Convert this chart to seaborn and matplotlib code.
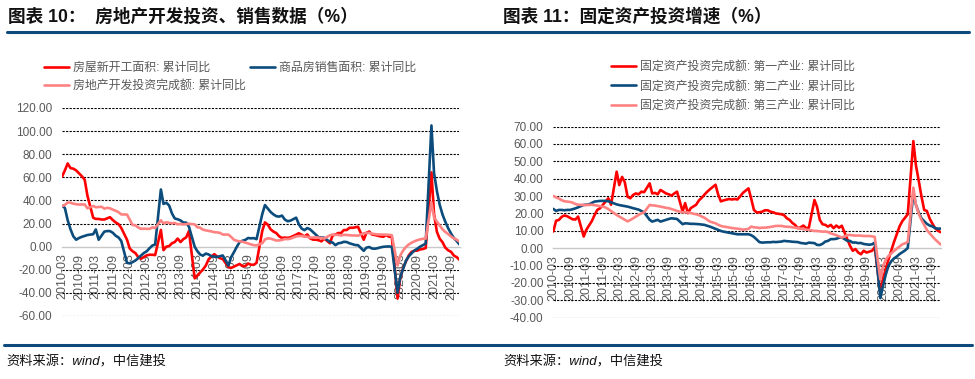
import pandas as pd
import numpy as np
import matplotlib
matplotlib.use("agg")
import matplotlib.pyplot as plt
import matplotlib.dates as mdates
from matplotlib.lines import Line2D
import seaborn as sns

# monthly cumulative data, no January prints
months = [d for d in pd.date_range("2010-03-01", "2021-12-01", freq="MS") if d.month != 1]

# ---- chart 10: real estate ----
new_start = [
    60.5, 66.0, 72.0, 68.0, 67.5, 66.0, 63.5, 61.0, 58.0, 44.0,
    25.0, 24.0, 24.0, 23.5, 23.5, 24.5, 25.5, 23.0, 21.0, 19.5, 16.2,
    6.0, -1.5, -4.0, -5.5, -9.0, -10.5, -9.0, -7.5, -7.0, -7.0, -7.3,
    14.5, -3.0, 0.0, 0.5, 3.0, 4.0, 7.0, 4.0, 6.5, 8.0, 13.5,
    -27.4, -25.2, -22.3, -19.8, -16.4, -11.0, -8.5, -6.5, -8.5, -10.0, -10.7,
    -17.7, -18.4, -17.3, -16.1, -15.0, -16.8, -16.8, -14.6, -15.6, -15.7, -14.0,
    13.7, 21.0, 19.0, 15.0, 13.0, 11.8, 9.0, 7.5, 7.9, 7.6, 8.1,
    10.4, 11.6, 10.4, 8.8, 10.6, 7.2, 6.1, 6.0, 5.6, 4.6, 7.0,
    2.9, 9.7, 10.5, 11.8, 11.8, 14.4, 14.4, 16.4, 16.3, 16.8, 17.2,
    6.0, 11.9, 13.1, 10.5, 10.1, 9.5, 8.9, 8.6, 10.0, 8.6, 8.5,
    -44.9, -27.2, -18.4, -12.8, -7.6, -4.5, -3.6, -3.4, -2.4, -2.0, -1.2,
    64.3, 28.2, 12.8, 6.9, 3.8, -0.9, -3.2, -4.5, -7.7, -9.1, -11.4,
]
sales_area = [
    35.5, 33.5, 23.0, 15.0, 9.0, 6.0, 7.5, 8.5, 9.3, 10.1,
    10.8, 14.9, 6.0, 9.5, 13.0, 13.5, 13.5, 12.0, 9.5, 8.0, 4.9,
    -14.0, -14.5, -13.4, -12.0, -10.0, -7.7, -5.5, -4.0, -1.4, 1.0, 1.8,
    49.5, 37.0, 38.0, 35.6, 28.7, 24.4, 23.7, 22.7, 20.9, 20.8, 17.3,
    -0.1, -3.8, -6.8, -7.8, -6.0, -6.7, -8.3, -8.6, -8.9, -8.2, -7.6,
    -16.3, -9.2, -4.8, -0.2, 3.9, 5.1, 5.8, 7.5, 7.2, 7.4, 6.5,
    28.2, 36.0, 33.0, 30.0, 27.9, 26.4, 26.0, 26.9, 23.5, 22.0, 22.5,
    25.1, 19.5, 15.7, 14.3, 16.1, 15.0, 12.7, 10.3, 8.2, 7.9, 7.7,
    4.1, 3.6, 1.3, 2.9, 3.3, 4.2, 4.0, 2.9, 2.2, 1.4, 1.3,
    -3.6, -0.9, -0.3, -1.6, -1.8, -1.3, -0.6, -0.1, 0.1, 0.2, -0.1,
    -39.9, -26.3, -19.3, -12.3, -8.4, -5.8, -3.3, -1.8, 0.0, 1.3, 2.6,
    104.9, 63.8, 48.1, 36.3, 27.7, 21.5, 15.9, 11.3, 7.5, 4.8, 1.9,
]
re_invest = [
    35.1, 36.2, 38.2, 38.1, 37.2, 36.7, 36.4, 36.5, 36.5, 33.2,
    35.2, 34.1, 34.3, 34.6, 32.9, 33.6, 33.2, 32.0, 31.1, 29.9, 27.9,
    27.8, 23.5, 18.7, 18.5, 16.6, 15.4, 15.6, 15.4, 15.4, 16.7, 16.2,
    22.8, 20.2, 21.1, 20.6, 20.3, 20.5, 19.3, 19.7, 19.2, 19.5, 19.8,
    19.3, 16.8, 16.4, 14.7, 14.1, 13.7, 13.2, 12.5, 12.4, 11.9, 10.5,
    10.4, 8.5, 6.0, 5.1, 4.6, 4.3, 3.5, 2.6, 2.0, 1.3, 1.0,
    3.0, 6.2, 7.2, 7.0, 6.1, 5.3, 5.4, 5.8, 6.6, 6.5, 6.9,
    8.9, 9.1, 9.3, 8.8, 8.5, 7.9, 7.9, 8.1, 7.8, 7.5, 7.0,
    9.9, 10.4, 10.3, 10.2, 9.7, 10.2, 10.1, 9.9, 9.7, 9.7, 9.5,
    11.6, 11.8, 11.9, 11.2, 10.9, 10.6, 10.5, 10.5, 10.3, 10.2, 9.9,
    -16.3, -7.7, -3.3, -0.3, 1.9, 3.4, 4.6, 5.6, 6.3, 6.8, 7.0,
    38.3, 25.6, 21.6, 18.3, 15.0, 12.7, 10.9, 8.8, 7.2, 6.0, 4.4,
]

# ---- chart 11: fixed asset investment by industry ----
fai_primary = [
    9.6, 15.8, 16.2, 18.0, 18.8, 18.4, 17.5, 16.6, 16.5, 18.2,
    6.7, 10.5, 13.0, 15.5, 19.0, 22.0, 23.0, 24.9, 26.8, 28.7, 25.0,
    44.0, 36.3, 41.0, 38.0, 29.6, 28.7, 30.6, 31.5, 31.0, 32.5, 32.2,
    37.3, 31.5, 31.8, 31.0, 33.5, 32.5, 31.5, 31.0, 30.2, 31.5, 32.5,
    21.1, 25.9, 20.1, 23.0, 24.0, 25.0, 27.5, 29.0, 30.8, 32.5, 33.9,
    36.5, 31.0, 26.9, 27.5, 27.9, 28.3, 28.0, 28.3, 28.0, 29.8, 31.8,
    34.4, 28.7, 22.0, 20.6, 20.6, 21.0, 21.8, 21.8, 21.0, 20.6, 20.0,
    19.5, 19.0, 17.2, 16.3, 14.5, 13.4, 11.5, 12.0, 13.0, 11.5, 11.8,
    27.7, 23.9, 16.3, 13.8, 13.4, 12.4, 13.4, 11.5, 13.0, 11.8, 12.9,
    5.0, 1.5, -1.5, -0.5, -2.5, -3.5, -1.5, -2.5, -2.0, -1.5, 0.6,
    -25.6, -18.0, -12.0, -6.5, -1.5, 3.5, 8.0, 12.5, 15.5, 17.5, 19.5,
    61.6, 47.8, 39.0, 30.0, 22.0, 21.4, 17.0, 14.0, 11.5, 10.0, 9.2,
]
fai_secondary = [
    22.6, 21.4, 22.0, 22.0, 21.8, 22.0, 22.0, 22.4, 22.9, 23.5,
    24.9, 25.0, 25.2, 26.0, 26.8, 27.0, 27.2, 27.2, 27.2, 27.0, 26.4,
    25.2, 24.8, 24.5, 24.2, 23.9, 23.5, 23.0, 22.6, 22.2, 21.4, 20.6,
    16.3, 15.3, 15.8, 16.3, 15.3, 15.8, 16.3, 16.8, 17.2, 17.0, 16.8,
    13.8, 14.3, 14.2, 14.0, 14.0, 13.9, 13.8, 13.6, 13.4, 12.9, 12.4,
    11.1, 10.5, 9.9, 9.5, 9.2, 8.9, 8.6, 8.3, 8.0, 8.0, 8.0,
    8.0, 7.5, 6.5, 5.0, 3.5, 3.2, 3.3, 3.4, 3.4, 3.6, 3.5,
    3.8, 4.2, 4.0, 3.9, 3.7, 3.6, 3.5, 3.0, 2.8, 2.6, 3.2,
    2.9, 1.9, 1.8, 2.5, 3.8, 4.2, 5.2, 5.2, 5.4, 6.0, 6.2,
    4.2, 4.2, 3.2, 3.3, 2.9, 3.0, 2.4, 2.2, 2.0, 2.2, 3.2,
    -28.7, -21.9, -15.2, -10.3, -7.5, -5.9, -4.8, -3.4, -2.4, -1.3, 0.1,
    31.9, 25.0, 20.6, 17.2, 15.5, 14.0, 13.0, 12.5, 11.5, 11.2, 11.3,
]
fai_tertiary = [
    30.0, 29.2, 28.6, 27.6, 27.0, 26.8, 26.6, 26.2, 25.4, 25.0,
    24.9, 24.8, 24.9, 25.0, 24.7, 24.5, 24.2, 23.9, 23.4, 22.5, 21.4,
    19.1, 18.2, 17.2, 16.3, 15.4, 16.2, 17.2, 18.2, 19.1, 20.0, 20.6,
    24.9, 24.6, 24.5, 24.2, 23.9, 23.6, 23.2, 23.0, 22.5, 22.0, 21.4,
    20.6, 20.6, 20.5, 20.3, 19.8, 19.5, 19.0, 18.2, 17.5, 16.3, 15.3,
    14.3, 13.5, 12.8, 12.4, 12.2, 11.9, 11.6, 11.4, 11.2, 11.0, 10.6,
    11.1, 12.4, 12.0, 11.9, 11.6, 11.8, 11.8, 12.0, 12.2, 12.5, 12.8,
    12.8, 12.5, 12.3, 12.3, 12.0, 11.8, 11.5, 11.2, 11.0, 10.7, 10.5,
    9.9, 9.9, 9.7, 9.5, 9.6, 9.3, 8.5, 8.0, 7.5, 6.8, 6.1,
    7.5, 7.6, 7.4, 7.2, 7.3, 7.2, 7.0, 7.0, 7.0, 6.8, 6.5,
    -18.0, -10.5, -6.7, -4.5, -3.0, -1.6, -0.3, 1.0, 2.2, 2.8, 3.6,
    34.8, 25.0, 20.0, 16.3, 13.4, 10.5, 8.5, 6.7, 5.0, 3.5, 2.1,
]

labels_left = ["房屋新开工面积: 累计同比", "商品房销售面积: 累计同比", "房地产开发投资完成额: 累计同比"]
labels_right = ["固定资产投资完成额: 第一产业: 累计同比",
                "固定资产投资完成额: 第二产业: 累计同比",
                "固定资产投资完成额: 第三产业: 累计同比"]
colors = ["#FF0000", "#0B4C7C", "#FF8282"]
left_yticks = [120, 100, 80, 60, 40, 20, 0, -20, -40, -60]
right_yticks = [70, 60, 50, 40, 30, 20, 10, 0, -10, -20, -30, -40]

GRAY = "#595959"
RULE = "#0E4A7E"


def long_df(series, names):
    frames = []
    for vals, name in zip(series, names):
        frames.append(pd.DataFrame({"date": months, "value": vals, "series": name}))
    return pd.concat(frames, ignore_index=True)


def draw(ax, df, names, yticks):
    sns.lineplot(data=df, x="date", y="value", hue="series", hue_order=names,
                 palette=dict(zip(names, colors)), linewidth=1.9, sort=False,
                 legend=False, ax=ax, zorder=3)
    ax.set_xlim(months[0], months[-1])
    ax.set_ylim(min(yticks), max(yticks))
    ax.set_yticks(yticks)
    ax.set_yticklabels(["%.2f" % v for v in yticks])
    for v in yticks:
        if v != 0:
            ax.axhline(v, color="black", lw=0.8, ls=(0, (2, 1.2)), zorder=1)
    for s in ["left", "right", "top"]:
        ax.spines[s].set_visible(False)
    ax.spines["bottom"].set_position(("data", 0))
    ax.spines["bottom"].set_color("#C8C8C8")
    ax.spines["bottom"].set_linewidth(1.0)
    ax.xaxis.set_major_locator(mdates.MonthLocator(bymonth=(3, 9)))
    ax.xaxis.set_major_formatter(mdates.DateFormatter("%Y-%m"))
    ax.tick_params(axis="x", colors="#C8C8C8", length=4, width=0.8,
                   labelcolor=GRAY, labelsize=9, labelrotation=90, pad=1)
    ax.tick_params(axis="y", length=0, labelcolor=GRAY, labelsize=8.5, pad=7)
    ax.set_xlabel("")
    ax.set_ylabel("")
    ax.patch.set_alpha(0)


def main():
    sns.set_style("white")
    plt.rcParams["font.family"] = ["Liberation Sans", "Noto Sans CJK SC", "DejaVu Sans"]
    plt.rcParams["axes.unicode_minus"] = False

    fig = plt.figure(figsize=(9.75, 3.79), dpi=100)
    W, H = 975.0, 379.0

    ax1 = fig.add_axes([62 / W, 1 - 316 / H, (459.5 - 62) / W, (316 - 108) / H])
    ax2 = fig.add_axes([553.3 / W, 1 - 317.7 / H, (940.7 - 553.3) / W, (317.7 - 126.5) / H])

    draw(ax1, long_df([new_start, sales_area, re_invest], labels_left), labels_left, left_yticks)
    draw(ax2, long_df([fai_primary, fai_secondary, fai_tertiary], labels_right), labels_right, right_yticks)

    # legends
    l1 = ax1.get_lines()[:3]
    fig.legend([l1[0], l1[2], l1[1]], [labels_left[0], labels_left[2], labels_left[1]],
               ncol=2, loc="upper left", bbox_to_anchor=(44 / W, 1 - 62 / H),
               frameon=False, fontsize=8.6, labelcolor=GRAY, handlelength=2.1,
               handletextpad=0.35, columnspacing=0.3, labelspacing=0.5,
               borderpad=0, borderaxespad=0)
    l2 = ax2.get_lines()[:3]
    fig.legend(l2, labels_right, ncol=1, loc="upper left",
               bbox_to_anchor=(611 / W, 1 - 61 / H), frameon=False, fontsize=8.6,
               labelcolor=GRAY, handlelength=2.1, handletextpad=0.3,
               labelspacing=0.62, borderpad=0, borderaxespad=0)

    # titles and rules
    fig.text(8 / W, 1 - 17 / H, "图表 10：  房地产开发投资、销售数据（%）", fontsize=12.7,
             fontweight="bold", va="center", ha="left", color="#111111")
    fig.text(503 / W, 1 - 17 / H, "图表 11：固定资产投资增速（%）", fontsize=12.7,
             fontweight="bold", va="center", ha="left", color="#111111")
    fig.add_artist(Line2D([7 / W, 969 / W], [1 - 32 / H, 1 - 32 / H], color=RULE, lw=2.2))
    fig.add_artist(Line2D([4 / W, 972 / W], [1 - 345 / H, 1 - 345 / H], color=RULE, lw=2.2))
    fig.text(6 / W, 1 - 362 / H, "资料来源：wind，中信建投", fontsize=9.5, va="center",
             ha="left", color="#111111", style="italic")
    fig.text(503 / W, 1 - 362 / H, "资料来源：wind，中信建投", fontsize=9.5, va="center",
             ha="left", color="#111111", style="italic")

    fig.savefig("out.png", dpi=100)
    plt.close(fig)


if __name__ == "__main__":
    main()
